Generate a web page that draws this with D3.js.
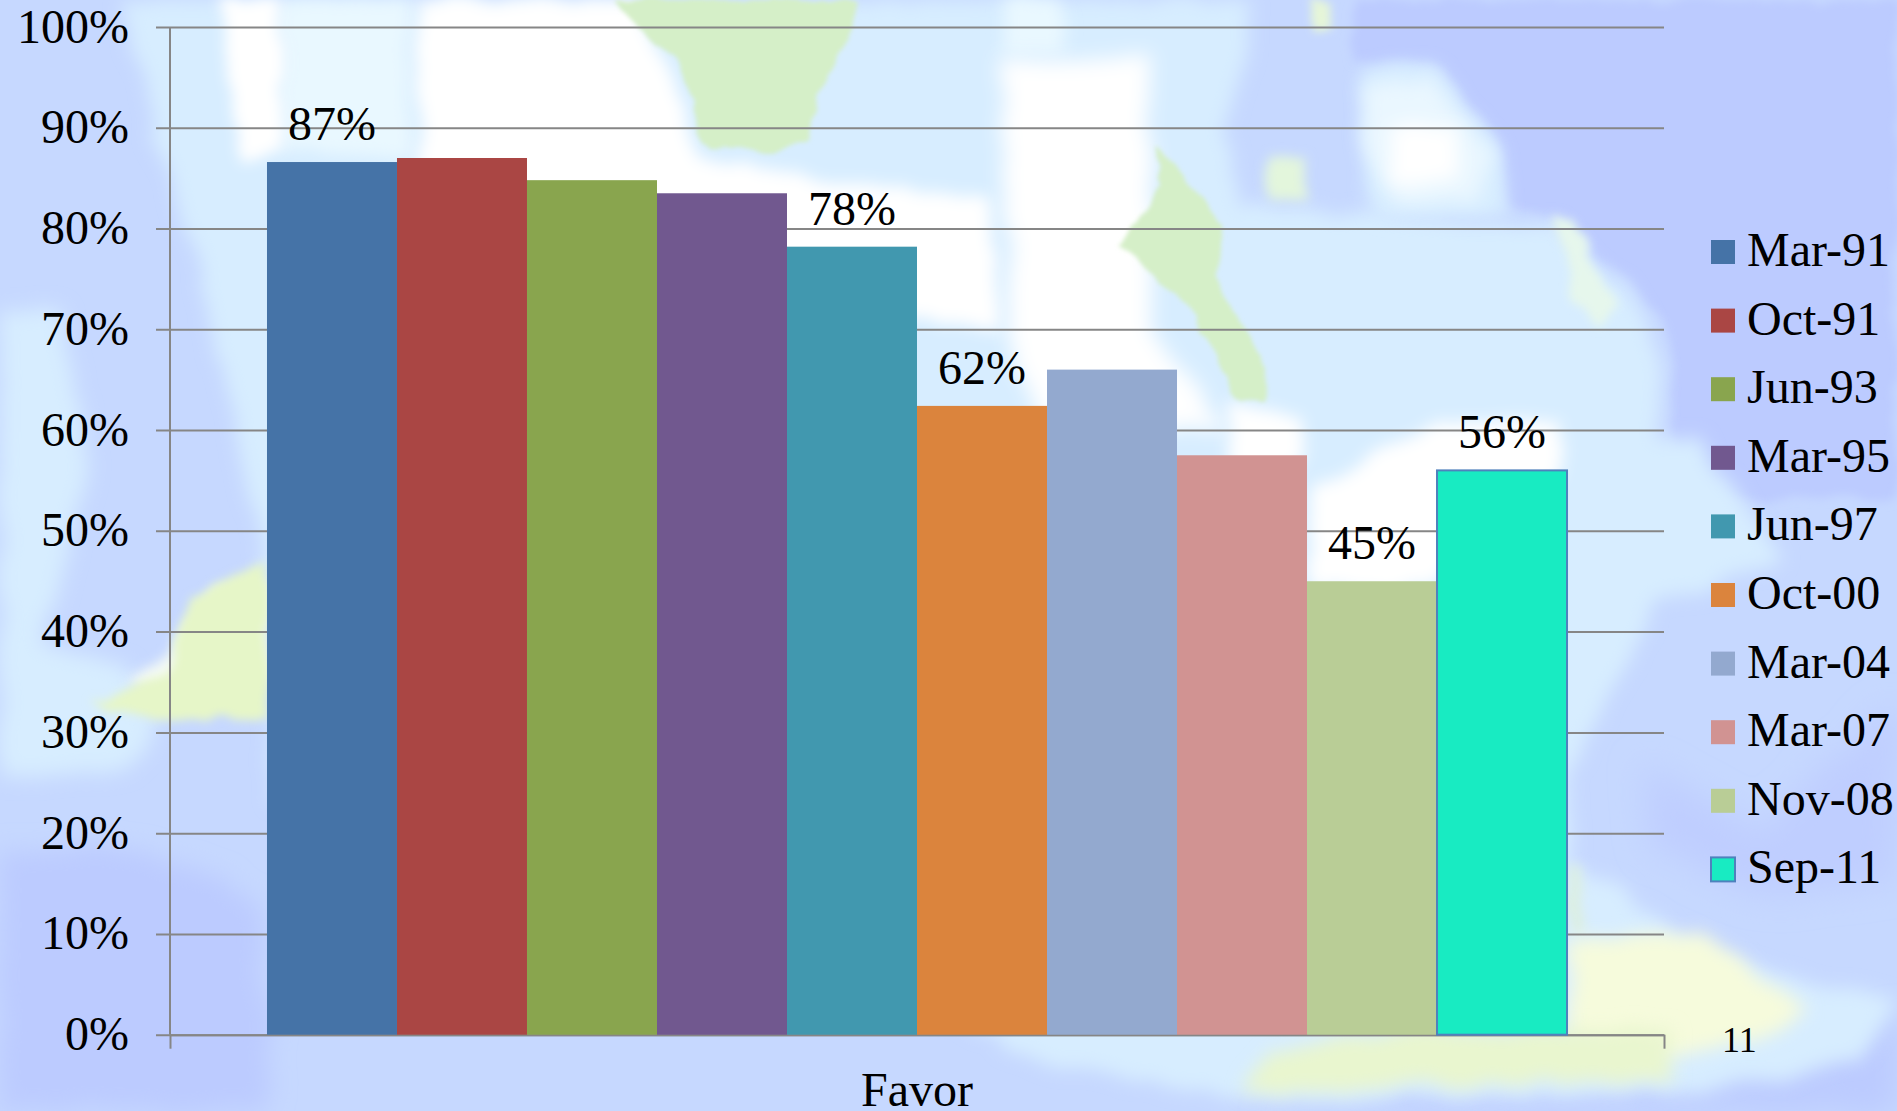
<!DOCTYPE html>
<html><head><meta charset="utf-8">
<script src="https://cdn.jsdelivr.net/npm/d3@7"></script>
<style>html,body{margin:0;padding:0;background:#c6d8ff;overflow:hidden}svg{display:block}
text{font-family:"Liberation Serif",serif;fill:#000}</style></head>
<body><svg id="c" width="1897" height="1111"></svg>
<script>
const months = ["Mar-91","Oct-91","Jun-93","Mar-95","Jun-97","Oct-00","Mar-04","Mar-07","Nov-08","Sep-11"];
const favor = [86.6,87.0,84.8,83.5,78.2,62.4,66.0,57.5,45.0,56.0];
const colors = ["#4573a7","#aa4644","#89a54e","#71588f","#4198af","#db843d","#93a9cf","#d19392","#b9cd96","#18ebc2"];
const labelled = ["Mar-91","Jun-97","Oct-00","Nov-08","Sep-11"];
const yTicks = [0,10,20,30,40,50,60,70,80,90,100];
const category = ["Favor"];

// decorative map backdrop: [fill, blur, outline]
const mapShapes = [
 ["#bccbff",5,"M1355,0L1897,0L1897,500L1700,500L1668,433L1674,367L1662,317L1578,233L1505,200L1493,133L1430,60L1350,60Z"],
 ["#bccbff",12,"M0,850L150,850L260,900L270,1060L265,1111L0,1111Z"],
 ["#bccbff",14,"M1250,1111L1450,1095L1700,1095L1840,1060L1897,1010L1897,1111Z"],
 ["#bfceff",16,"M1640,760L1760,830L1897,700L1897,880L1760,900L1650,840Z"],
 ["#d7edff",9,"M122,0L1250,0L1250,40L1225,130L1240,205L1370,215L1500,225L1560,225L1650,320L1660,370L1655,440L1700,440L1780,560L1660,600L1570,770L1570,860L1720,960L1897,1000L1860,1060L1700,1090L1230,1100L1000,1050L1000,1035L270,800L270,600L225,380L200,267L160,150Z"],
 ["#d7edff",10,"M0,310L60,310L90,470L60,580L40,640L130,670L160,720L130,770L0,775Z"],
 ["#d7edff",8,"M1360,67L1430,60L1495,140L1510,215L1370,220Z"],
 ["#e9f8ff",8,"M280,0L410,0L410,160L285,150Z"],
 ["#ffffff",7,"M217,0L280,0L285,150L240,160Z"],
 ["#ffffff",8,"M420,0L640,0L700,160L990,200L1000,330L420,240Z"],
 ["#e9f8ff",8,"M1004,0L1062,0L1062,50L1004,50Z"],
 ["#ffffff",10,"M1000,60L1150,55L1150,330L1230,430L1040,430L1010,330Z"],
 ["#ffffff",8,"M1230,400L1300,420L1300,470L1230,470Z"],
 ["#ffffff",8,"M1310,490L1440,420L1560,420L1560,475L1430,590L1310,590Z"],
 ["#eaf7ff",9,"M1365,90L1430,75L1490,150L1480,200L1395,205L1365,150Z"],
 ["#ffffff",9,"M1390,125L1460,130L1460,180L1390,185Z"],
 ["#d5efc8",2,"M613,0L860,0L832,67L803,140L770,152L710,150L700,140L682,67Z"],
 ["#d5efc8",2,"M1155,143L1228,227L1216,277L1264,367L1264,400L1234,400L1204,333L1191,310L1119,247L1161,187Z"],
 ["#e3f6dc",6,"M1270,157L1306,157L1306,200L1270,200Z"],
 ["#e6f7ec",5,"M1554,217L1580,225L1614,310L1600,327L1575,300Z"],
 ["#e6f6d8",4,"M1310,0L1335,0L1330,30L1315,30Z"],
 ["#f4faf4",6,"M130,680L170,650L215,590L267,580L267,680L160,700Z"],
 ["#e6f6c8",5,"M90,705L167,673L190,598L267,560L267,720L160,720Z"],
 ["#dcefe0",6,"M1570,860L1585,865L1585,930L1570,930Z"],
 ["#f6fbdc",9,"M1569,940L1700,930L1775,990L1809,1010L1760,1040L1640,1060L1569,1040Z"],
 ["#e9f6cf",9,"M1240,1095L1270,1050L1400,1030L1671,1030L1671,1080L1400,1085Z"]
];

const svg = d3.select("#c");
const W = 1897, H = 1111;
const font = 48;
const defs = svg.append("defs");
[...new Set(mapShapes.map(d=>d[1]))].forEach(b=>{
  const f = defs.append("filter").attr("id","b"+b)
    .attr("filterUnits","userSpaceOnUse").attr("x",-60).attr("y",-60).attr("width",W+120).attr("height",H+120);
  f.append("feTurbulence").attr("type","fractalNoise").attr("baseFrequency",0.025).attr("numOctaves",3).attr("seed",7).attr("result","n");
  f.append("feDisplacementMap").attr("in","SourceGraphic").attr("in2","n").attr("scale",18).attr("xChannelSelector","R").attr("yChannelSelector","G").attr("result","d");
  f.append("feGaussianBlur").attr("in","d").attr("stdDeviation",b);
});
svg.append("rect").attr("width",W).attr("height",H).attr("fill","#c6d8ff");
svg.append("g").selectAll("path").data(mapShapes).join("path")
  .attr("d",d=>d[2]).attr("fill",d=>d[0]).attr("filter",d=>`url(#b${d[1]})`);

const left = 170, right = 1664, top_ = 27, base = 1034.7, tick = 14;
const y = d3.scaleLinear().domain([0,100]).range([base,top_]);
const x0 = d3.scaleBand().domain(category).range([left,right]).paddingInner(0).paddingOuter(0.0746);
const x1 = d3.scaleBand().domain(months).range([0,x0.bandwidth()]);
const color = d3.scaleOrdinal().domain(months).range(colors);
const grey = "#868686";

const grid = svg.append("g").attr("transform",`translate(${left-tick},0)`)
  .call(d3.axisRight(y).tickValues(yTicks).tickSize(right-left+tick).tickFormat(""));
grid.select(".domain").remove();
grid.selectAll("line").attr("stroke",grey).attr("stroke-width",2);

const ya = svg.append("g").attr("transform",`translate(${left-tick},0)`)
  .call(d3.axisLeft(y).tickValues(yTicks).tickSize(0).tickPadding(27).tickFormat(d=>d+"%"));
ya.select(".domain").remove();
ya.selectAll("text").attr("font-size",font).attr("font-family","Liberation Serif").attr("dy",null).attr("y",15).attr("fill","#000");

const axisEnds = d3.scaleLinear().domain([0,1]).range([left,right]);
const xa = svg.append("g").attr("transform",`translate(0,${base})`)
  .call(d3.axisBottom(axisEnds).tickValues([0,1]).tickSize(tick).tickSizeOuter(0).tickFormat(""));
xa.select(".domain").attr("stroke",grey).attr("stroke-width",2);
xa.selectAll("line").attr("stroke",grey).attr("stroke-width",2);
svg.append("line").attr("x1",left).attr("x2",left).attr("y1",top_).attr("y2",base)
  .attr("stroke",grey).attr("stroke-width",2);

const last = months[months.length-1];
const barG = svg.append("g").attr("transform",`translate(${x0("Favor")},0)`);
const rows = months.map((m,i)=>({m,v:favor[i]}));
barG.selectAll("rect").data(rows).join("rect")
  .attr("x",d=>x1(d.m)).attr("width",x1.bandwidth())
  .attr("y",d=>y(d.v)).attr("height",d=>y(0)-y(d.v))
  .attr("fill",d=>color(d.m))
  .attr("stroke",d=>d.m===last?"#4f81bd":"none").attr("stroke-width",2);
barG.selectAll("text").data(rows.filter(d=>labelled.includes(d.m))).join("text")
  .attr("x",d=>x1(d.m)+x1.bandwidth()/2).attr("y",d=>y(d.v)-22)
  .attr("text-anchor","middle").attr("font-size",font)
  .text(d=>d3.format(".0f")(d.v)+"%");

svg.append("text").attr("x",x0("Favor")+x0.bandwidth()/2).attr("y",1106)
  .attr("text-anchor","middle").attr("font-size",font).text(category[0]);

const ly = d3.scalePoint().domain(months).range([252,869.4]);
const lg = svg.append("g").selectAll("g").data(months).join("g")
  .attr("transform",d=>`translate(1711,${ly(d)})`);
lg.append("rect").attr("x",0).attr("y",-12).attr("width",24).attr("height",24)
  .attr("fill",d=>color(d)).attr("stroke",d=>d===last?"#4f81bd":"none").attr("stroke-width",2);
lg.append("text").attr("x",36).attr("y",14).attr("font-size",font).text(d=>d);

svg.append("text").attr("x",1722).attr("y",1052).attr("font-size",36).text("11");
</script></body></html>
